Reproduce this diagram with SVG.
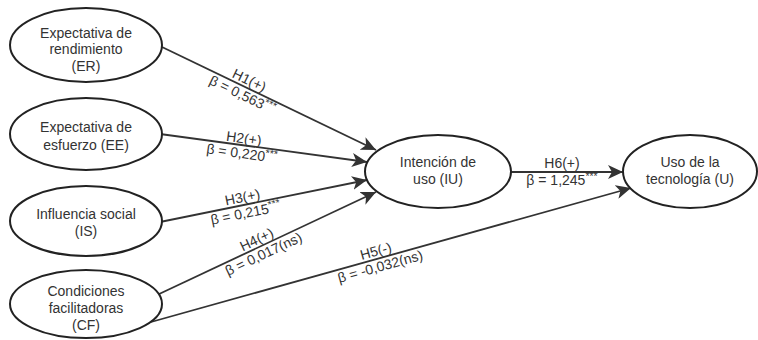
<svg xmlns="http://www.w3.org/2000/svg" width="758" height="340" viewBox="0 0 758 340">
<style>
.node{fill:#fff;stroke:#222;stroke-width:2}
.t{font-family:"Liberation Sans",Arial,sans-serif;font-size:14px;fill:#333;text-anchor:middle}
.e{fill:none;stroke:#333;stroke-width:1.8}
.s{font-size:10.5px}
</style>
<defs>
<marker id="arr" markerUnits="userSpaceOnUse" markerWidth="16" markerHeight="14" refX="15" refY="7" orient="auto" viewBox="0 0 16 14">
<path d="M0,0 L15,7 L0,14 L4,7 Z" fill="#333"/>
</marker>
</defs>
<rect width="758" height="340" fill="#fff"/>
<g id="connectors">
<line class="e" x1="162" y1="47" x2="376" y2="150" marker-end="url(#arr)"/>
<line class="e" x1="160" y1="134" x2="367" y2="162" marker-end="url(#arr)"/>
<line class="e" x1="160" y1="222" x2="367" y2="180" marker-end="url(#arr)"/>
<line class="e" x1="157" y1="295" x2="376" y2="192" marker-end="url(#arr)"/>
<line class="e" x1="151" y1="322" x2="631" y2="188" marker-end="url(#arr)"/>
<line class="e" x1="511" y1="172" x2="623" y2="172" marker-end="url(#arr)"/>
<g transform="translate(246,87.4) rotate(25.7)">
<text class="t" x="0" y="-3">H1(+)</text>
<text class="t" x="0" y="13">β = 0,563<tspan class="s" dy="-5">***</tspan></text>
</g>
<g transform="translate(243,145.2) rotate(7.7)">
<text class="t" x="0" y="-2">H2(+)</text>
<text class="t" x="0" y="13">β = 0,220<tspan class="s" dy="-5">***</tspan></text>
</g>
<g transform="translate(244,205) rotate(-11.5)">
<text class="t" x="0" y="-3">H3(+)</text>
<text class="t" x="0" y="13">β = 0,215<tspan class="s" dy="-5">***</tspan></text>
</g>
<g transform="translate(260,246.6) rotate(-25.2)">
<text class="t" x="0" y="-3">H4(+)</text>
<text class="t" x="0" y="13">β = 0,017(ns)</text>
</g>
<g transform="translate(378,258.6) rotate(-15.6)">
<text class="t" x="0" y="-3">H5(-)</text>
<text class="t" x="0" y="13">β = -0,032(ns)</text>
</g>
<g transform="translate(562,172)">
<text class="t" x="0" y="-4">H6(+)</text>
<text class="t" x="0" y="13">β = 1,245<tspan class="s" dy="-5">***</tspan></text>
</g>
</g>
<g id="ER">
<ellipse class="node" cx="86" cy="45" rx="76" ry="37"/>
<text class="t" x="86" y="37.5">Expectativa de</text>
<text class="t" x="86" y="54">rendimiento</text>
<text class="t" x="86" y="71">(ER)</text>
</g>
<g id="EE">
<ellipse class="node" cx="86" cy="134" rx="76" ry="36"/>
<text class="t" x="86" y="132">Expectativa de</text>
<text class="t" x="86" y="150">esfuerzo (EE)</text>
</g>
<g id="IS">
<ellipse class="node" cx="86" cy="221" rx="76" ry="35"/>
<text class="t" x="86" y="219">Influencia social</text>
<text class="t" x="86" y="236">(IS)</text>
</g>
<g id="CF">
<ellipse class="node" cx="86" cy="304" rx="76" ry="34"/>
<text class="t" x="86" y="296">Condiciones</text>
<text class="t" x="86" y="313">facilitadoras</text>
<text class="t" x="86" y="330">(CF)</text>
</g>
<g id="IU">
<ellipse class="node" cx="438" cy="171.5" rx="73" ry="36.5"/>
<text class="t" x="438" y="167">Intención de</text>
<text class="t" x="438" y="184">uso (IU)</text>
</g>
<g id="U">
<ellipse class="node" cx="690" cy="171.5" rx="67" ry="36.5"/>
<text class="t" x="690" y="167">Uso de la</text>
<text class="t" x="690" y="184">tecnología (U)</text>
</g>
</svg>
